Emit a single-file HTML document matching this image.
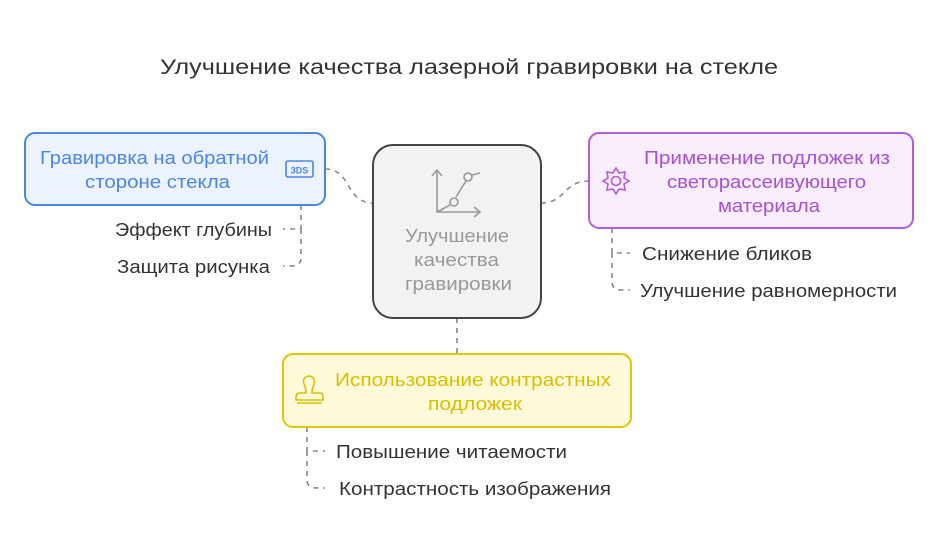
<!DOCTYPE html>
<html><head><meta charset="utf-8"><style>
html,body{margin:0;padding:0;background:#fff;}
svg{display:block;font-family:"Liberation Sans","DejaVu Sans",sans-serif;}
</style></head><body>
<svg width="938" height="548" viewBox="0 0 938 548" xmlns="http://www.w3.org/2000/svg">
<rect width="938" height="548" fill="#fff"/>
<text x="160" y="74" font-size="21" fill="#333" textLength="618" lengthAdjust="spacingAndGlyphs">Улучшение качества лазерной гравировки на стекле</text>

<g fill="none" stroke="#888" stroke-width="1.6" stroke-dasharray="5,5">
<path d="M325 169 C352 169 345 203 373 203"/>
<path d="M541 203 C566 203 563 181 589 181"/>
<path d="M457 318 L457 354"/>
<path d="M301 205 L301 229 L283 229"/>
<path d="M301 229 L301 258 Q301 266 291 266 L283 266"/>
<path d="M612 228 L612 253 L630 253"/>
<path d="M612 253 L612 282 Q612 290 622 290 L630 290"/>
<path d="M307 427 L307 451 L325 451"/>
<path d="M307 451 L307 480 Q307 488 317 488 L325 488"/>
</g>

<rect x="25" y="133" width="300" height="72" rx="10" fill="#ecf3fe" stroke="#4a86e8" stroke-width="2"/>
<g font-size="18" fill="#4a86e8" lengthAdjust="spacingAndGlyphs">
<text x="40" y="164" textLength="229" lengthAdjust="spacingAndGlyphs">Гравировка на обратной</text>
<text x="85" y="188" textLength="145" lengthAdjust="spacingAndGlyphs">стороне стекла</text>
</g>
<rect x="286" y="161" width="27" height="16" rx="2" fill="none" stroke="#4a86e8" stroke-width="1.6"/>
<text x="299.5" y="173.5" font-size="9" font-weight="bold" fill="#4a86e8" text-anchor="middle">3DS</text>

<rect x="373" y="145" width="168" height="173" rx="20" fill="#f2f2f2" stroke="#444" stroke-width="2"/>
<g fill="none" stroke="#999" stroke-width="1.6">
<path d="M437 170 L437 212 L480 212"/><path d="M432 176 L437 170 L442 176"/><path d="M474 207 L480 212 L474 217"/>
<path d="M437 212 L450 205"/><path d="M456 197 L466 181"/><path d="M472 175 L480 173"/>
<circle cx="454" cy="202" r="4"/><circle cx="468" cy="177" r="4"/>
</g>
<g font-size="18" fill="#999">
<text x="405" y="242" textLength="104" lengthAdjust="spacingAndGlyphs">Улучшение</text>
<text x="414" y="266" textLength="85" lengthAdjust="spacingAndGlyphs">качества</text>
<text x="405" y="290" textLength="107" lengthAdjust="spacingAndGlyphs">гравировки</text>
</g>

<rect x="589" y="133" width="324" height="95" rx="10" fill="#f8eefc" stroke="#b65ae0" stroke-width="2"/>
<g font-size="18" fill="#a94fd6">
<text x="644" y="164" textLength="246" lengthAdjust="spacingAndGlyphs">Применение подложек из</text>
<text x="667" y="188" textLength="199" lengthAdjust="spacingAndGlyphs">светорассеивующего</text>
<text x="718" y="212" textLength="102" lengthAdjust="spacingAndGlyphs">материала</text>
</g>
<g fill="none" stroke="#b65ae0" stroke-width="1.6">
<path d="M616 168 L619 173 L625 172 L624 178 L629 181 L624 184 L625 190 L619 189 L616 194 L613 189 L607 190 L608 184 L603 181 L608 178 L607 172 L613 173 Z"/>
<circle cx="616" cy="181" r="4.5"/>
</g>

<rect x="283" y="354" width="348" height="73" rx="10" fill="#fef9d9" stroke="#e0c800" stroke-width="2"/>
<g font-size="18" fill="#d9bf00">
<text x="335" y="386" textLength="276" lengthAdjust="spacingAndGlyphs">Использование контрастных</text>
<text x="428" y="410" textLength="94" lengthAdjust="spacingAndGlyphs">подложек</text>
</g>
<g fill="none" stroke="#d9bf00" stroke-width="1.6">
<path d="M306 393 Q306 388 304 384 Q302 377 309 376 Q316 377 314 384 Q312 388 312 393 L320 393 Q323 393 323 397 L323 400 L296 400 L296 397 Q296 393 300 393 Z"/>
<path d="M297 403 L322 403"/>
</g>

<g font-size="18" fill="#333">
<text x="115" y="236" textLength="157" lengthAdjust="spacingAndGlyphs">Эффект глубины</text>
<text x="117" y="273" textLength="153" lengthAdjust="spacingAndGlyphs">Защита рисунка</text>
<text x="642" y="260" textLength="170" lengthAdjust="spacingAndGlyphs">Снижение бликов</text>
<text x="640" y="297" textLength="257" lengthAdjust="spacingAndGlyphs">Улучшение равномерности</text>
<text x="336" y="458" textLength="231" lengthAdjust="spacingAndGlyphs">Повышение читаемости</text>
<text x="339" y="495" textLength="272" lengthAdjust="spacingAndGlyphs">Контрастность изображения</text>
</g>
</svg>
</body></html>
